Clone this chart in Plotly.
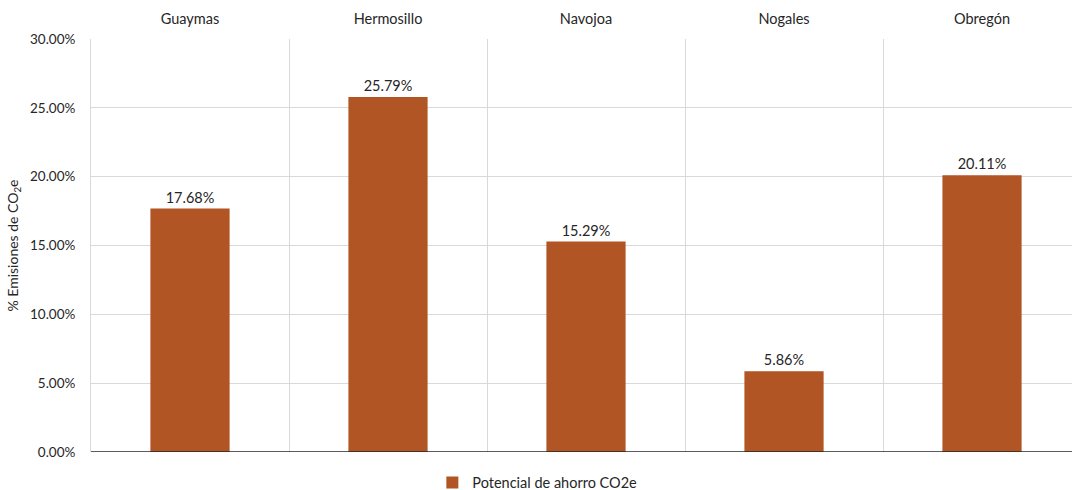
import plotly.graph_objects as go

ciudades = ["Guaymas", "Hermosillo", "Navojoa", "Nogales", "Obregón"]
potencial = [0.1768, 0.2579, 0.1529, 0.0586, 0.2011]
serie = "Potencial de ahorro CO2e"
y_ticks = [0.0, 0.05, 0.10, 0.15, 0.20, 0.25, 0.30]

FONT = "Lato, Open Sans, sans-serif"
TXT = "#262626"

fig = go.Figure()
fig.add_trace(go.Bar(
    x=ciudades, y=potencial, name=serie,
    marker=dict(color="#B05523", line=dict(width=0)),
    width=0.4,
    texttemplate="%{y:.2%}", textposition="outside",
    textfont=dict(family=FONT, size=14.5, color=TXT),
    cliponaxis=False,
    showlegend=True,
))

fig.update_layout(
    width=1072, height=490,
    margin=dict(l=91, r=0, t=39, b=38),
    paper_bgcolor="white", plot_bgcolor="white",
    font=dict(family=FONT, size=14, color=TXT),
    bargap=0.6,
    legend=dict(orientation="h", x=0.455, xanchor="center",
                yref="container", y=0.015, yanchor="middle",
                font=dict(size=14.5, color=TXT), itemwidth=30),
    xaxis=dict(
        side="top", type="category", tickson="boundaries",
        range=[-0.5, 4.4545],
        showgrid=True, gridcolor="#D9D9D9", gridwidth=1,
        showline=False, ticks="", ticklen=0, ticklabelstandoff=11,
        tickfont=dict(size=14.5, color=TXT),
    ),
    yaxis=dict(
        range=[0, 0.30], tickvals=y_ticks, tickformat=".2%",
        showgrid=True, gridcolor="#D9D9D9", gridwidth=1,
        showline=True, linecolor="#D9D9D9", linewidth=1,
        zeroline=False, ticks="", ticklabelstandoff=12,
        tickfont=dict(size=13.5, color=TXT),
        title=dict(text="% Emisiones de CO<sub>2</sub>e", font=dict(size=14, color=TXT), standoff=8),
    ),
)
# dark baseline at zero
fig.add_shape(type="line", xref="paper", yref="y", x0=0, x1=1, y0=0, y1=0,
              line=dict(color="#262626", width=1.5), layer="above")

fig.write_html("out.html")
